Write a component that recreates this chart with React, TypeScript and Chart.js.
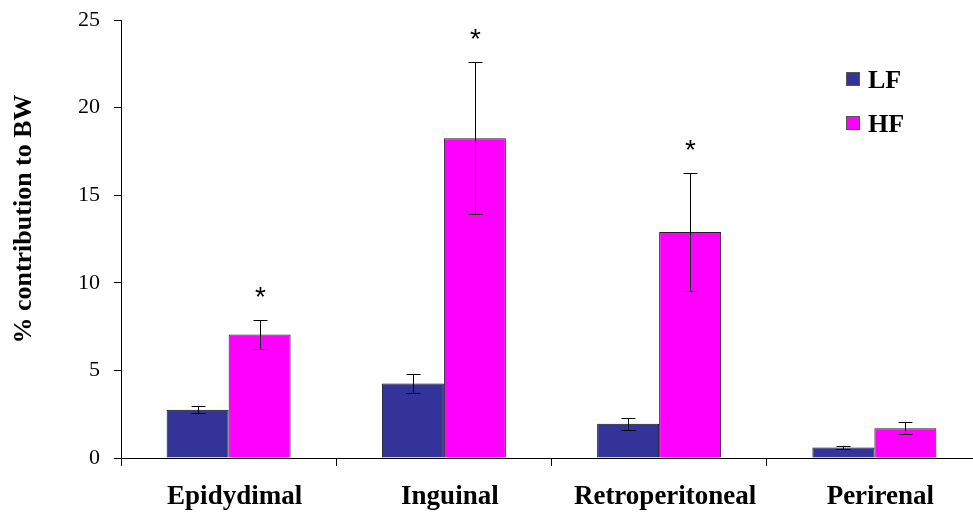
import React, { useEffect, useRef } from "react";
import { Chart, registerables } from "chart.js";

Chart.register(...registerables);

const categories = ["Epidydimal", "Inguinal", "Retroperitoneal", "Perirenal"];
const lfValues = [2.75, 4.25, 1.95, 0.6];
const hfValues = [7.05, 18.25, 12.9, 1.7];
const lfErrors = [0.2, 0.55, 0.33, 0.1];
const hfErrors = [0.8, 4.35, 3.35, 0.35];
const significant = [true, true, true, false];
const seriesNames = ["LF", "HF"];
const seriesColors = ["#333399", "#FF00FF"];
const yTicks = [0, 5, 10, 15, 20, 25];
const yTitle = "% contribution to BW";

const errorBarPlugin = {
  id: "errorBars",
  afterDatasetsDraw(chart: any) {
    const ctx = chart.ctx;
    const y = chart.scales.y;
    const errs = [lfErrors, hfErrors];
    ctx.save();
    ctx.strokeStyle = "#000";
    ctx.lineWidth = 1;
    chart.data.datasets.forEach((ds: any, di: number) => {
      const meta = chart.getDatasetMeta(di);
      meta.data.forEach((bar: any, i: number) => {
        const v = ds.data[i];
        const e = errs[di][i];
        const x = Math.round(bar.x) + 0.5;
        const yTop = y.getPixelForValue(v + e);
        const yBot = y.getPixelForValue(v - e);
        ctx.beginPath();
        ctx.moveTo(x, yTop);
        ctx.lineTo(x, yBot);
        ctx.moveTo(x - 7, Math.round(yTop) + 0.5);
        ctx.lineTo(x + 7, Math.round(yTop) + 0.5);
        ctx.moveTo(x - 7, Math.round(yBot) + 0.5);
        ctx.lineTo(x + 7, Math.round(yBot) + 0.5);
        ctx.stroke();
        if (di === 1 && significant[i]) {
          ctx.fillStyle = "#000";
          ctx.font = "28px 'Liberation Sans'";
          ctx.textAlign = "center";
          ctx.textBaseline = "middle";
          ctx.fillText("*", x, yTop - 22);
        }
      });
    });
    ctx.restore();
  },
};

const decorPlugin = {
  id: "decor",
  afterDraw(chart: any) {
    const ctx = chart.ctx;
    ctx.save();
    // legend
    const lx = 846;
    const ly = [72, 116];
    seriesNames.forEach((name, i) => {
      ctx.fillStyle = seriesColors[i];
      ctx.fillRect(lx, ly[i], 14, 14);
      ctx.strokeStyle = "#555";
      ctx.lineWidth = 1;
      ctx.strokeRect(lx + 0.5, ly[i] + 0.5, 13, 13);
      ctx.fillStyle = "#000";
      ctx.font = "bold 26px 'Liberation Serif'";
      ctx.textAlign = "left";
      ctx.textBaseline = "middle";
      ctx.fillText(name, lx + 22, ly[i] + 9);
    });
    // y axis title
    ctx.translate(24, 219);
    ctx.rotate(-Math.PI / 2);
    ctx.fillStyle = "#000";
    ctx.font = "bold 26px 'Liberation Serif'";
    ctx.textAlign = "center";
    ctx.textBaseline = "middle";
    ctx.fillText(yTitle, 0, 0);
    ctx.restore();
  },
};

export default function App() {
  const ref = useRef<HTMLCanvasElement>(null);
  useEffect(() => {
    if (!ref.current) return;
    const chart = new Chart(ref.current, {
      type: "bar",
      data: {
        labels: categories,
        datasets: [
          {
            label: seriesNames[0],
            data: lfValues,
            backgroundColor: seriesColors[0],
            borderColor: "#111",
            borderWidth: 1,
            categoryPercentage: 0.576,
            barPercentage: 1,
          },
          {
            label: seriesNames[1],
            data: hfValues,
            backgroundColor: seriesColors[1],
            borderColor: "#222",
            borderWidth: 1,
            categoryPercentage: 0.576,
            barPercentage: 1,
          },
        ],
      },
      options: {
        animation: false,
        responsive: false,
        maintainAspectRatio: false,
        layout: { padding: { top: 20, right: 8, left: 0, bottom: 0 } },
        plugins: { legend: { display: false }, tooltip: { enabled: false } },
        scales: {
          x: {
            offset: true,
            grid: {
              offset: true,
              drawOnChartArea: false,
              drawTicks: true,
              tickLength: 8,
              color: "#000",
            },
            border: { color: "#000", width: 1 },
            ticks: {
              color: "#000",
              font: { family: "'Liberation Serif'", size: 27, weight: "bold" },
              padding: 15,
              maxRotation: 0,
              labelOffset: 6,
            },
            afterFit: (s: any) => {
              s.height = 56;
              s.paddingLeft = 0;
              s.paddingRight = 0;
            },
          },
          y: {
            min: 0,
            max: 25,
            afterBuildTicks: (s: any) => {
              s.ticks = yTicks.map((v) => ({ value: v }));
            },
            grid: {
              drawOnChartArea: false,
              drawTicks: true,
              tickLength: 7,
              color: "#000",
            },
            border: { color: "#000", width: 1 },
            ticks: {
              color: "#000",
              font: { family: "'Liberation Serif'", size: 22 },
              padding: 14,
            },
            afterFit: (s: any) => {
              s.width = 121;
              s.paddingTop = 0;
              s.paddingBottom = 0;
            },
          },
        },
      },
      plugins: [errorBarPlugin, decorPlugin],
    });
    return () => chart.destroy();
  }, []);
  return (
    <div
      style={{
        position: "fixed",
        left: 0,
        top: 0,
        width: 973,
        height: 514,
        overflow: "hidden",
        background: "#fff",
      }}
    >
      <canvas ref={ref} width={990} height={514} style={{ display: "block" }} />
    </div>
  );
}
